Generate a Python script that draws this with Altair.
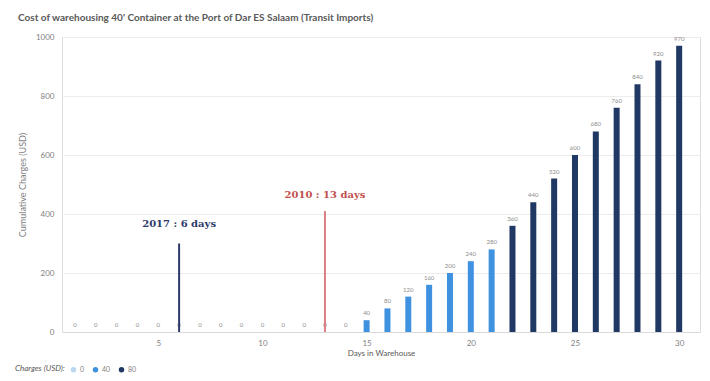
import altair as alt
import pandas as pd

# Days stored in the warehouse and the cumulative charge at the end of each day
days = list(range(1, 31))
cumulative = [0] * 14 + [40, 80, 120, 160, 200, 240, 280] + [360, 440, 520, 600, 680, 760, 840, 920, 970]
daily_rate = ["0"] * 14 + ["40"] * 7 + ["80"] * 9

# Free-storage period in two years
period_year = ["2017", "2010"]
period_days = [6, 13]
period_height = [300, 410]
period_label = ["2017 : 6 days", "2010 : 13 days"]
period_color = ["#2e3a6b", "#dc7d85"]
period_text_color = ["#2e3a6b", "#c0504d"]

bars_df = pd.DataFrame({"day": days, "charge": cumulative, "rate": daily_rate})
period_df = pd.DataFrame({
    "year": period_year, "day": period_days, "height": period_height,
    "label": period_label, "line_color": period_color, "text_color": period_text_color,
})

FONT = "Lato"
W, H = 638, 295

x_scale = alt.Scale(domain=[0.62, 30.76], nice=False, zero=False)
y_scale = alt.Scale(domain=[0, 1000], nice=False)

x_axis = alt.Axis(values=[5, 10, 15, 20, 25, 30], title="Days in Warehouse", grid=False,
                  ticks=False, domainColor="#d9d9d9", labelColor="#7f7f7f", labelFontSize=8,
                  titleColor="#595959", titleFontSize=8, titleFontWeight="normal",
                  labelPadding=7, titlePadding=2)
y_axis = alt.Axis(values=[0, 200, 400, 600, 800, 1000], title="Cumulative Charges (USD)",
                  format="d", domain=False, ticks=False, gridColor="#ececec",
                  labelColor="#7f7f7f", labelFontSize=8, titleColor="#7f7f7f",
                  titleFontSize=9, titleFontWeight="normal", labelPadding=8, titlePadding=8)

color = alt.Color(
    "rate:N",
    scale=alt.Scale(domain=["0", "40", "80"], range=["#bcd7f2", "#3f92e0", "#1f3864"]),
    legend=alt.Legend(title="Charges (USD):", orient="none", direction="horizontal",
                      legendX=-47, legendY=329, titleOrient="left", titleFontSize=8,
                      titleFontWeight="normal", titleColor="#595959", titleFontStyle="italic",
                      labelFontSize=7, labelColor="#7f7f7f", symbolType="circle",
                      symbolSize=30, columnPadding=7, labelOffset=3),
)

bars = alt.Chart(bars_df).mark_bar(size=6).encode(
    x=alt.X("day:Q", scale=x_scale, axis=x_axis),
    y=alt.Y("charge:Q", scale=y_scale, axis=y_axis),
    color=color,
)

values = alt.Chart(bars_df).mark_text(fontSize=6, color="#8c8c8c", dy=-7, font=FONT).encode(
    x=alt.X("day:Q", scale=x_scale),
    y=alt.Y("charge:Q", scale=y_scale),
    text=alt.Text("charge:Q"),
)

period_lines = alt.Chart(period_df).mark_rule(strokeWidth=2).encode(
    x=alt.X("day:Q", scale=x_scale),
    y=alt.Y("height:Q", scale=y_scale),
    y2=alt.datum(0),
    color=alt.Color("line_color:N", scale=None),
)


def period_caption(year, dy):
    return alt.Chart(period_df).transform_filter(
        alt.datum.year == year
    ).mark_text(font="DejaVu Serif", fontWeight="bold", fontSize=10, dy=dy).encode(
        x=alt.X("day:Q", scale=x_scale),
        y=alt.Y("height:Q", scale=y_scale),
        text="label:N",
        color=alt.Color("text_color:N", scale=None),
    )


chart = alt.layer(
    bars, values, period_lines, period_caption("2017", -20), period_caption("2010", -16)
).properties(
    width=W,
    height=H,
    title=alt.TitleParams(
        "Cost of warehousing 40' Container at the Port of Dar ES Salaam (Transit Imports)",
        anchor="start", frame="group", dx=-44, fontSize=10, fontWeight="bold",
        color="#595959", font=FONT, offset=10,
    ),
    autosize=alt.AutoSizeParams(type="none"),
    padding={"left": 62, "top": 37, "right": 10, "bottom": 49},
).configure_view(stroke=None).configure(font=FONT, background="white")

chart.save("out.html", embed_options={"renderer": "svg", "actions": False})
